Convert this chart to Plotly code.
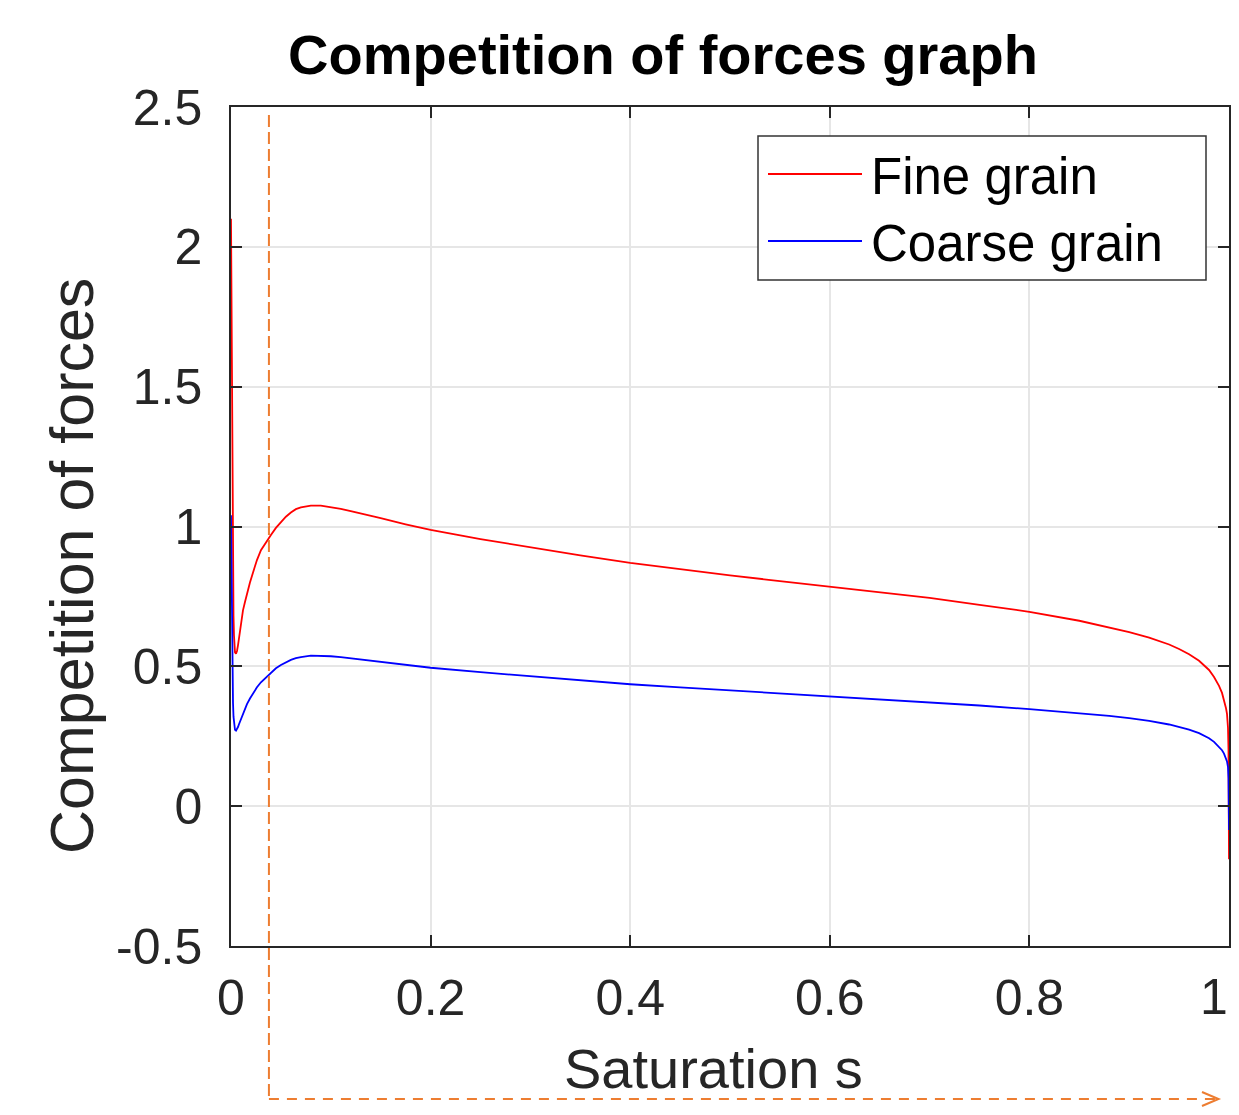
import plotly.graph_objects as go

# ---------------- data ----------------
s_values = [0.0, 0.0005, 0.001, 0.0015, 0.002, 0.0025, 0.003, 0.0035, 0.004, 0.005,
            0.006, 0.007, 0.008, 0.009, 0.010, 0.012, 0.014, 0.016, 0.019, 0.022,
            0.026, 0.030, 0.035, 0.040, 0.045, 0.050, 0.055, 0.060, 0.065, 0.070,
            0.080, 0.090, 0.100, 0.110, 0.120, 0.135, 0.150, 0.175, 0.200, 0.25,
            0.30, 0.35, 0.40, 0.45, 0.50, 0.55, 0.60, 0.65, 0.70, 0.75,
            0.80, 0.85, 0.88, 0.90, 0.92, 0.94, 0.95, 0.96, 0.97, 0.975,
            0.98, 0.985, 0.99, 0.993, 0.995, 0.997, 0.998, 0.999, 0.9995, 1.0]

fine_grain = [2.10, 1.75, 1.40, 1.05, 0.80, 0.68, 0.61, 0.57, 0.55, 0.545,
              0.555, 0.575, 0.60, 0.63, 0.655, 0.70, 0.73, 0.76, 0.80, 0.835,
              0.88, 0.915, 0.945, 0.97, 0.995, 1.015, 1.035, 1.05, 1.062, 1.068,
              1.075, 1.075, 1.07, 1.063, 1.055, 1.043, 1.03, 1.008, 0.988, 0.955,
              0.925, 0.897, 0.870, 0.847, 0.825, 0.805, 0.785, 0.765, 0.745, 0.72,
              0.695, 0.663, 0.64, 0.622, 0.603, 0.578, 0.562, 0.543, 0.52, 0.505,
              0.487, 0.462, 0.43, 0.405, 0.38, 0.35, 0.33, 0.28, 0.20, -0.19]

coarse_grain = [1.04, 0.80, 0.60, 0.45, 0.37, 0.32, 0.295, 0.28, 0.273, 0.27,
                0.275, 0.283, 0.293, 0.303, 0.313, 0.333, 0.35, 0.365, 0.385, 0.403,
                0.425, 0.443, 0.46, 0.477, 0.493, 0.505, 0.515, 0.523, 0.529, 0.533,
                0.538, 0.538, 0.536, 0.533, 0.529, 0.523, 0.517, 0.505, 0.495, 0.479,
                0.464, 0.449, 0.436, 0.425, 0.414, 0.403, 0.393, 0.382, 0.372, 0.36,
                0.347, 0.333, 0.323, 0.315, 0.305, 0.292, 0.284, 0.274, 0.261, 0.253,
                0.243, 0.23, 0.213, 0.2, 0.188, 0.172, 0.16, 0.14, 0.10, -0.085]

series_names = ["Fine grain", "Coarse grain"]
series_colors = ["#FF0000", "#0000FF"]

x_tick_vals = [0, 0.2, 0.4, 0.6, 0.8, 1]
x_tick_text = ["0", "0.2", "0.4", "0.6", "0.8", "1"]
y_tick_vals = [-0.5, 0, 0.5, 1, 1.5, 2, 2.5]
y_tick_text = ["-0.5", "0", "0.5", "1", "1.5", "2", "2.5"]

threshold_s = 0.038   # dashed orange marker position
arrow_end_s = 0.9895

# ---------------- figure ----------------
OFF = 8  # page body margin
W, H = 1239 - 2 * OFF, 1115 - 2 * OFF
L = 231 - OFF
T = 107 - OFF
R = W - (1229 - OFF)
B = H - (946 - OFF)
pw, ph = W - L - R, H - T - B

def px_x(p):
    return (p - OFF - L) / pw

def px_y(p):
    return (H - B - (p - OFF)) / ph

FONT = "Liberation Sans, Arial, Helvetica, sans-serif"
AX = "#262626"
ORANGE = "#ED7D31"

fig = go.Figure()
for name, ys, col in zip(series_names, [fine_grain, coarse_grain], series_colors):
    fig.add_trace(go.Scatter(x=s_values, y=ys, mode="lines", name=name,
                             line=dict(color=col, width=1.8), showlegend=False))

axis_common = dict(showline=True, mirror="ticks", linecolor=AX, linewidth=1.5,
                   ticks="inside", ticklen=11, tickwidth=1.5, tickcolor=AX,
                   showgrid=True, gridcolor="#E6E6E6", gridwidth=1.5,
                   zeroline=False, ticklabeloverflow="allow",
                   tickfont=dict(family=FONT, size=50, color=AX))

# the last x tick label sits on the page edge: drawn as an annotation so it stays whole
shown_x_text = x_tick_text[:-1] + [""]
fig.update_xaxes(range=[0, 1], tickvals=x_tick_vals, ticktext=shown_x_text,
                 ticklabelstandoff=7, **axis_common)
fig.update_yaxes(range=[-0.5, 2.5], tickvals=y_tick_vals, ticktext=y_tick_text,
                 ticklabelstandoff=17, **axis_common)

shapes = []
# dashed orange vertical + horizontal with arrow head
shapes.append(dict(type="line", xref="paper", yref="paper",
                   x0=threshold_s, x1=threshold_s, y0=px_y(115), y1=px_y(1099),
                   line=dict(color=ORANGE, width=2, dash="12px,5px"), layer="above"))
shapes.append(dict(type="line", xref="paper", yref="paper",
                   x0=threshold_s, x1=arrow_end_s, y0=px_y(1099), y1=px_y(1099),
                   line=dict(color=ORANGE, width=2, dash="10px,8px"), layer="above"))
shapes.append(dict(type="path", xref="paper", yref="paper",
                   path=f"M {px_x(1202)},{px_y(1092)} L {arrow_end_s},{px_y(1099)} L {px_x(1202)},{px_y(1106)}",
                   line=dict(color=ORANGE, width=2), layer="above"))

# legend box
shapes.append(dict(type="rect", xref="paper", yref="paper",
                   x0=px_x(758), x1=px_x(1206), y0=px_y(136), y1=px_y(280),
                   line=dict(color="#333333", width=1.5), fillcolor="white", layer="above"))
legend_rows = [174, 241]
annotations = []
for name, col, ry in zip(series_names, series_colors, legend_rows):
    shapes.append(dict(type="line", xref="paper", yref="paper",
                       x0=px_x(768), x1=px_x(862), y0=px_y(ry), y1=px_y(ry),
                       line=dict(color=col, width=1.8), layer="above"))
    annotations.append(dict(text=name, xref="paper", yref="paper",
                            x=px_x(869), y=px_y(ry + 2), xanchor="left", yanchor="middle",
                            showarrow=False, font=dict(family=FONT, size=51, color="black")))

# last x tick label
annotations.append(dict(text=x_tick_text[-1], xref="x", yref="paper",
                        x=x_tick_vals[-1], y=px_y(997), xanchor="right", yanchor="middle",
                        xshift=1, showarrow=False,
                        font=dict(family=FONT, size=50, color=AX)))

# axis titles
annotations.append(dict(text="Saturation s", xref="paper", yref="paper",
                        x=px_x(713), y=px_y(1068), xanchor="center", yanchor="middle",
                        showarrow=False, font=dict(family=FONT, size=56, color=AX)))
annotations.append(dict(text="Competition of forces", xref="paper", yref="paper",
                        x=px_x(72), y=px_y(566), xanchor="center", yanchor="middle",
                        textangle=-90, showarrow=False,
                        font=dict(family=FONT, size=61, color=AX)))

fig.update_layout(
    width=W, height=H, autosize=False,
    margin=dict(l=L, r=R, t=T, b=B, autoexpand=False),
    paper_bgcolor="white", plot_bgcolor="white",
    title=dict(text="<b>Competition of forces graph</b>", x=(663 - OFF) / W, xanchor="center",
               xref="container", y=1 - (54 - OFF) / H, yanchor="middle", yref="container",
               font=dict(family=FONT, size=56, color="black")),
    shapes=shapes, annotations=annotations, showlegend=False,
)

fig.write_html("out.html")
